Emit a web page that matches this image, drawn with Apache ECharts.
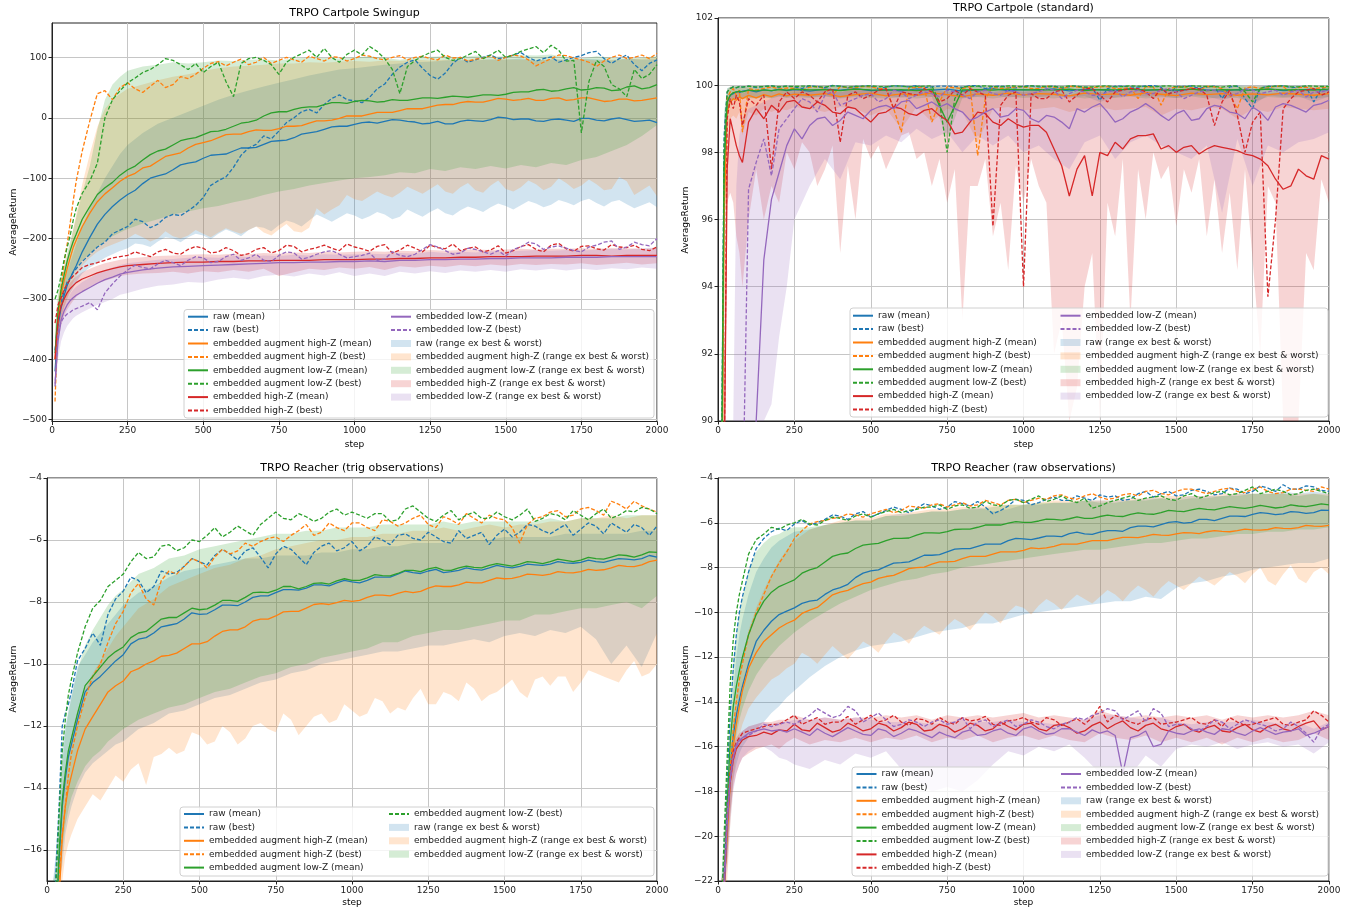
<!DOCTYPE html>
<html><head><meta charset="utf-8">
<script src="https://cdn.jsdelivr.net/npm/echarts@6/dist/echarts.min.js"></script>
<style>html,body{margin:0;padding:0;background:#fff}#c{width:1354px;height:909px}</style>
</head><body><div id="c"></div><script>
// ---------- x (training step) ----------
const X = [10,20,30,40,50,60,70,80,100,125,
 150,175,200,225,250,300,350,400,450,500,
 550,600,650,700,750,800,850,900,950,1000,
 1050,1100,1150,1200,1250,1300,1350,1400,1450,1500,
 1550,1600,1650,1700,1750,1800,1850,1900,1950,2000];
// extra in-between steps used by the noisier curves
const XM = [275,325,375,425,475,525,575,625,675,725,
 775,825,875,925,975,1025,1075,1125,1175,1225,
 1275,1325,1375,1425,1475,1525,1575,1625,1675,1725,
 1775,1825,1875,1925,1975];

// ---------- Panel 1: TRPO Cartpole Swingup ----------
const p1RawMean = [-420,-345,-315,-295,-278,-266,-255,-245,-222,-198,
 -176,-160,-147,-136,-127,-109,-96,-86,-75,-67,
 -61,-55,-50,-44,-38,-33,-25,-19,-14,-11,
 -7,-6,-4,-7,-9,-10,-6,-5,-3,0,
 -2,-5,-3,-4,-1,-4,-2,-3,-5,-8];
const p1RawMeanMid = [-120,-100,-93,-78,-73, -62,-60,-50,-49,-39, -37,-27,-23,-15,-14, -8,-9,-3,-6,-10, -6,-10,-4,-6,1, -3,-2,-6,-2,-6, -1,-5,0,-6,-4];
const p1RawBest = [-385,-335,-305,-288,-272,-265,-256,-250,-238,-226,
 -214,-206,-192,-186,-180,-172,-176,-160,-154,-132,
 -104,-82,-50,-30,-22,0,14,22,38,28,
 34,56,84,96,70,74,100,96,104,100,
 108,94,101,96,103,110,90,104,78,96];
const p1RawBestMid = [-168,-182,-165,-162,-145, -112,-98,-62,-44,-35, -8,10,8,32,30, 25,48,72,92,82, 64,90,92,100,98, 104,100,98,92,100, 108,98,98,88,90];
const p1HiMean = [-400,-330,-295,-270,-250,-232,-215,-203,-180,-158,
 -139,-126,-116,-105,-97,-83,-72,-61,-50,-41,
 -33,-27,-23,-21,-18,-14,-9,-5,-1,3,
 6,9,12,15,18,22,25,26,29,31,
 30,29,32,29,33,30,28,31,29,33];
const p1HiMeanMid = [-92,-80,-64,-58,-44, -38,-28,-27,-20,-21, -14,-13,-5,-4,3, 3,9,9,15,15, 21,22,27,26,32, 29,32,29,33,30, 33,27,31,28,31];
const p1HiBest = [-470,-330,-280,-240,-210,-175,-138,-105,-55,-5,
 40,45,30,50,58,42,62,55,65,82,
 93,92,88,100,95,96,102,94,100,98,
 102,96,103,100,98,104,100,97,103,100,
 102,86,98,103,96,85,100,98,104,107];
const p1HiBestMid = [48,52,50,68,72, 90,86,97,92,90, 100,92,98,101,94, 104,98,100,96,102, 96,99,94,99,95, 104,96,92,104,99, 92,94,104,100,98];
const p1LoMean = [-390,-320,-285,-260,-238,-220,-205,-193,-168,-147,
 -127,-116,-107,-95,-86,-70,-55,-45,-35,-28,
 -22,-14,-7,3,10,14,18,22,25,27,
 28,27,29,31,33,34,35,36,38,39,
 43,46,44,48,46,50,45,51,48,55];
const p1LoMeanMid = [-80,-61,-52,-38,-33, -23,-19,-9,-4,8, 10,17,18,25,24, 29,26,30,29,33, 32,36,34,38,37, 42,43,47,45,50, 47,49,46,53,50];
const p1LoBest = [-300,-285,-262,-235,-215,-195,-170,-150,-125,-105,
 -75,0,30,45,58,75,88,95,80,75,
 92,35,98,95,72,100,112,115,92,112,
 118,98,40,95,108,100,98,110,104,100,
 110,118,120,94,-25,95,55,35,65,88];
const p1LoBestMid = [66,80,98,88,90, 85,60,90,100,88, 92,106,100,100,105, 104,110,80,85,102, 112,95,104,98,112, 104,114,108,112,95, 60,85,48,80,72];
const p1EhMean = [-400,-335,-312,-300,-290,-283,-278,-273,-267,-262,
 -257,-253,-250,-247,-245,-243,-241,-240,-239,-239,
 -238,-238,-237,-237,-236,-236,-236,-235,-235,-235,
 -234,-234,-233,-233,-232,-232,-231,-231,-230,-230,
 -230,-229,-229,-229,-228,-228,-229,-228,-228,-228];
const p1EhBest = [-340,-310,-298,-285,-275,-268,-262,-258,-248,-243,
 -240,-236,-232,-230,-228,-226,-222,-224,-218,-216,
 -222,-220,-225,-215,-220,-213,-218,-211,-220,-214,
 -221,-210,-219,-216,-211,-217,-220,-214,-219,-224,
 -213,-218,-211,-217,-213,-217,-210,-215,-218,-214];
const p1EhBestMid = [-222,-230,-218,-226,-213, -224,-215,-228,-218,-224, -211,-222,-215,-216,-209, -217,-213,-224,-211,-222, -215,-209,-216,-222,-212, -220,-210,-222,-208,-221, -212,-219,-214,-211,-220];
const p1ElMean = [-440,-370,-335,-320,-310,-303,-298,-294,-288,-281,
 -274,-268,-264,-259,-256,-252,-249,-247,-246,-245,
 -244,-243,-242,-241,-240,-240,-239,-239,-238,-238,
 -237,-238,-236,-236,-235,-235,-234,-234,-233,-233,
 -232,-232,-232,-231,-231,-231,-230,-230,-230,-230];
const p1ElBest = [-445,-355,-338,-330,-325,-322,-318,-316,-312,-306,
 -318,-290,-275,-262,-252,-248,-242,-240,-236,-232,
 -238,-226,-232,-236,-228,-224,-231,-222,-226,-230,
 -224,-234,-228,-226,-210,-220,-224,-218,-226,-229,
 -214,-209,-214,-216,-222,-211,-204,-214,-210,-200];
const p1ElBestMid = [-244,-250,-236,-245,-230, -240,-230,-236,-226,-238, -222,-234,-226,-220,-232, -228,-236,-222,-230,-218, -214,-226,-216,-222,-220, -218,-206,-218,-212,-220, -214,-206,-218,-206,-212];
const p1RawLo = [-430,-360,-330,-312,-300,-290,-282,-272,-258,-248,
 -240,-232,-226,-220,-216,-210,-205,-200,-198,-195,
 -192,-190,-186,-182,-178,-174,-170,-166,-165,-162,
 -163,-160,-164,-158,-156,-158,-153,-151,-148,-146,
 -145,-142,-144,-140,-138,-141,-139,-143,-145,-148];
const p1RawLoMid = [-208,-214,-198,-206,-192, -201,-185,-196,-180,-188, -170,-180,-160,-172,-158, -168,-156,-168,-152,-164, -150,-162,-147,-156,-142, -152,-138,-148,-136,-145, -134,-147,-136,-150,-140];
const p1RawHi = [-380,-320,-290,-270,-255,-240,-225,-210,-180,-150,
 -125,-100,-80,-60,-45,-25,-10,0,10,20,
 30,38,45,52,58,64,70,75,80,82,
 85,88,90,92,93,95,96,95,97,96,
 98,95,97,96,98,97,95,98,96,97];
const p1HiLo = [-440,-370,-335,-315,-300,-285,-272,-262,-245,-232,
 -222,-215,-210,-205,-200,-198,-200,-196,-195,-192,
 -190,-188,-186,-190,-185,-188,-182,-160,-145,-135,
 -130,-128,-124,-120,-118,-122,-115,-120,-112,-118,
 -115,-110,-114,-108,-112,-110,-118,-105,-120,-130];
const p1HiLoMid = [-192,-205,-188,-200,-186, -198,-183,-192,-180,-195, -176,-190,-150,-152,-128, -138,-122,-132,-114,-126, -110,-126,-108,-124,-104, -122,-104,-120,-100,-118, -102,-120,-98,-128,-112];
const p1HiHi = [-360,-300,-270,-250,-230,-210,-185,-160,-110,-60,
 -15,15,30,40,48,55,62,68,72,78,
 82,85,86,88,90,90,92,91,93,94,
 93,95,94,96,95,96,95,97,96,97,
 96,95,97,96,97,95,96,97,98,100];
const p1LoLo = [-420,-350,-315,-295,-280,-268,-258,-250,-236,-225,
 -214,-205,-196,-190,-184,-175,-168,-160,-155,-150,
 -146,-140,-135,-128,-122,-118,-112,-108,-104,-100,
 -98,-95,-90,-92,-85,-88,-82,-85,-80,-84,
 -78,-82,-75,-78,-70,-65,-55,-45,-30,-12];
const p1LoHi = [-350,-290,-265,-245,-225,-205,-185,-165,-125,-80,
 -20,30,55,68,78,85,88,92,90,92,
 95,94,96,97,95,98,100,99,98,100,
 102,99,96,100,101,102,100,103,101,102,
 104,103,105,100,98,102,100,98,100,102];
const p1EhLo = [-430,-370,-345,-328,-318,-310,-303,-297,-288,-280,
 -274,-270,-266,-262,-260,-258,-257,-255,-258,-254,
 -256,-252,-255,-250,-262,-256,-250,-252,-248,-250,
 -247,-252,-246,-248,-245,-247,-244,-246,-243,-245,
 -242,-244,-242,-243,-241,-244,-242,-240,-243,-241];
const p1EhHi = [-370,-320,-300,-288,-280,-273,-268,-263,-256,-250,
 -245,-241,-238,-235,-233,-231,-229,-228,-227,-226,
 -227,-225,-226,-224,-225,-223,-224,-222,-223,-222,
 -221,-222,-220,-221,-219,-220,-219,-218,-219,-218,
 -217,-218,-217,-217,-216,-217,-216,-216,-217,-216];
const p1ElLo = [-460,-400,-370,-355,-345,-338,-332,-328,-322,-316,
 -310,-305,-300,-293,-290,-283,-278,-276,-272,-273,
 -268,-265,-268,-262,-260,-263,-258,-261,-256,-262,
 -258,-262,-255,-258,-254,-257,-253,-255,-252,-255,
 -251,-253,-250,-253,-250,-252,-249,-251,-248,-250];
const p1ElHi = [-410,-350,-325,-310,-300,-292,-285,-280,-272,-265,
 -258,-252,-248,-244,-241,-238,-235,-234,-232,-231,
 -232,-229,-231,-228,-229,-227,-228,-226,-227,-226,
 -225,-226,-224,-225,-222,-224,-222,-223,-221,-222,
 -220,-219,-220,-219,-220,-218,-217,-218,-216,-215];

// ---------- Panel 2: TRPO Cartpole (standard) ----------
const p2RawMean = [85,97.6,99.5,99.7,99.75,99.8,99.78,99.82,99.85,99.8,
 99.86,99.83,99.88,99.84,99.87,99.82,99.88,99.85,99.9,99.84,
 99.87,99.83,99.89,99.85,99.88,99.82,99.86,99.9,99.84,99.87,
 99.85,99.89,99.83,99.88,99.86,99.84,99.9,99.85,99.87,99.83,
 99.88,99.86,99.82,99.87,99.85,99.89,99.84,99.86,99.88,99.85];
const p2RawBest = [86,98.5,99.8,99.9,99.95,99.92,99.96,99.94,99.97,99.93,
 99.96,99.98,99.94,99.97,99.95,99.98,99.93,99.97,99.96,99.98,
 99.94,99.97,99.99,99.95,99.97,99.93,99.98,99.96,99.94,99.97,
 99.95,99.98,99.96,99.94,99.55,99.97,99.95,99.98,99.94,99.96,
 99.98,99.95,99.6,99.97,99.3,99.96,99.98,99.94,99.5,99.96];
const p2RawBestMid = [99.9,99.96,99.99,99.92,99.97, 99.9,99.98,99.95,99.93,99.97, 99.96,99.99,99.9,99.97,99.92, 99.98,99.95,99.9,99.97,99.92, 99.9,99.97,99.94,99.99,99.7, 99.96,99.9,99.97,99.95,99.6, 99.92,99.97,99.93,99.96,99.9];
const p2HiMean = [84,96,99.2,99.5,99.6,99.55,99.65,99.6,99.7,99.62,
 99.72,99.66,99.74,99.68,99.73,99.7,99.75,99.66,99.72,99.76,
 99.68,99.74,99.7,99.77,99.72,99.66,99.74,99.7,99.76,99.71,
 99.75,99.73,99.68,99.76,99.72,99.74,99.7,99.77,99.73,99.69,
 99.76,99.72,99.75,99.7,99.74,99.71,99.76,99.73,99.7,99.75];
const p2HiBest = [84,97,99.6,99.8,99.9,99.7,99.85,98.6,99.9,99.85,
 99.9,99.95,99.88,99.92,99.9,99.94,99.9,99.96,99.92,99.95,
 99.9,98.6,99.93,98.9,99.95,99.9,97.9,99.94,99.92,99.96,
 99.9,99.94,99.97,99.92,99.95,99.9,99.93,99.96,99.4,99.94,
 99.92,99.96,99.9,99.3,99.95,99.92,99.96,99.93,99.9,99.95];
const p2HiBestMid = [99.85,99.96,99.7,99.92,99.96, 99.9,99.3,99.92,99.95,99.5, 99.92,99.96,99.6,99.9,99.95, 99.9,99.97,99.88,99.95,99.93, 99.96,99.9,99.6,99.95,99.9, 99.96,99.85,99.95,99.7,99.92, 99.9,99.97,99.8,99.94,99.92];
const p2LoMean = [86,97.5,99.5,99.7,99.78,99.8,99.82,99.8,99.85,99.83,
 99.86,99.84,99.87,99.85,99.88,99.86,99.87,99.84,99.88,99.86,
 99.85,99.87,99.84,99.88,98.9,99.86,99.87,99.85,99.88,99.86,
 99.87,99.85,99.88,99.84,99.87,99.86,99.88,99.85,99.87,99.86,
 99.88,99.84,99.87,99.86,99.85,99.88,99.86,99.87,99.85,99.88];
const p2LoBest = [86,98.2,99.8,99.9,99.95,99.93,99.96,99.94,99.97,99.95,
 99.96,99.98,99.95,99.97,99.96,99.98,99.94,99.97,99.96,99.98,
 99.95,99.97,99.96,99.98,98.0,99.95,99.97,99.96,99.98,99.95,
 99.97,99.96,99.98,99.94,99.97,99.95,99.98,99.96,99.97,99.95,
 99.98,99.96,99.94,99.97,99.5,99.96,99.98,99.95,99.97,99.96];
const p2LoBestMid = [99.97,99.95,99.98,99.94,99.97, 99.96,99.98,99.95,99.97,99.5, 99.6,99.96,99.98,99.95,99.97, 99.98,99.96,99.94,99.97,99.95, 99.98,99.96,99.97,99.95,99.98, 99.94,99.97,99.96,99.98,99.8, 99.9,99.97,99.95,99.98,99.96];
const p2EhMean = [82,88,97.5,99.0,98.6,98.2,97.9,97.7,98.9,99.3,
 99.0,99.4,99.2,99.5,99.55,99.3,99.4,99.15,99.3,98.9,
 99.2,99.3,99.1,99.3,98.95,98.6,99.2,98.9,99.0,98.75,
 98.8,98.1,96.7,97.9,98.0,98.3,98.4,98.5,98.1,98.0,
 98.2,98.1,98.15,98.05,97.9,97.6,96.9,97.5,97.2,97.8];
const p2EhMeanMid = [99.35,99.5,99.2,99.35,99.1, 99.15,99.35,99.15,99.25,99.1, 98.55,98.9,99.15,98.8,98.85, 98.8,98.6,97.6,97.5,96.7, 97.9,98.1,98.5,98.55,98.2, 98.15,97.95,98.2,98.1,97.95, 97.8,97.2,97.0,97.3,97.9];
const p2EhBest = [82,88,99.0,99.6,99.3,99.7,99.5,98.8,99.6,99.4,
 99.7,97.5,99.5,99.8,99.6,99.7,99.8,98.3,99.8,99.7,
 99.9,99.8,99.7,99.8,99.6,99.7,99.8,95.8,99.7,94.0,
 99.6,99.8,99.5,99.9,99.7,99.8,99.9,99.8,99.9,99.8,
 99.9,99.7,99.5,99.1,98.9,93.7,99.3,99.8,99.9,99.8];
const p2EhBestMid = [99.8,99.5,99.9,99.7,99.6, 99.85,99.3,99.75,99.9,99.5, 99.85,99.9,99.7,99.4,99.8, 99.75,99.6,99.85,99.7,99.9, 99.5,99.85,99.9,99.6,99.75, 99.85,99.9,98.8,99.85,98.0, 99.2,96.0,99.6,99.85,99.7];
const p2ElMean = [80,80,80,80,80,80,82,84,87,90.0,
 94.8,96.6,97.4,98.2,98.7,98.8,99.05,98.95,99.1,99.25,
 99.4,99.5,99.3,99.5,99.45,99.2,99.05,99.3,99.1,99.25,
 98.9,99.05,98.7,99.2,99.45,98.9,99.2,99.45,99.1,99.15,
 98.95,99.3,99.35,99.15,99.35,98.95,99.45,99.3,99.4,99.55];
const p2ElMeanMid = [98.4,99.0,98.8,99.2,99.0, 99.35,99.3,99.55,99.4,99.35, 99.3,98.95,99.2,99.05,99.3, 99.0,99.1,98.9,99.3,99.35, 99.2,99.0,99.3,99.3,98.95, 99.25,99.0,99.4,99.2,99.0, 99.2,99.35,99.4,99.2,99.45];
const p2ElBest = [80,80,80,80,80,82,84,87,96.9,97.7,
 98.4,97.3,98.7,99.0,99.3,99.5,99.7,99.4,99.6,99.75,
 99.6,99.8,99.7,99.75,99.85,99.7,99.8,99.75,99.85,99.7,
 99.8,99.85,99.75,99.8,99.7,99.85,99.8,99.75,99.85,99.8,
 99.7,99.85,99.8,99.75,99.85,99.8,99.7,99.85,99.8,99.85];
const p2ElBestMid = [99.6,99.2,99.8,99.5,99.7, 99.5,99.85,99.6,99.8,99.65, 99.8,99.6,99.85,99.7,99.8, 99.75,99.9,99.6,99.85,99.7, 99.8,99.65,99.85,99.75,99.9, 99.6,99.8,99.85,99.7,99.9, 99.75,99.85,99.8,99.65,99.8];
const p2RawLo = [80,95.5,99.2,99.5,99.55,99.6,99.58,99.62,99.65,99.6,
 99.66,99.62,99.68,99.64,99.7,99.65,99.68,99.62,99.7,99.66,
 99.68,99.63,99.7,99.65,99.68,99.6,99.66,99.7,99.63,99.68,
 99.65,99.7,99.62,99.68,99.5,99.64,99.7,99.66,99.68,99.62,
 99.7,99.66,99.55,99.68,99.4,99.7,99.65,99.67,99.5,99.66];
const p2RawHi = [88,99.0,99.9,99.95,99.97,99.97,99.98,99.97,99.98,99.98,
 99.98,99.99,99.98,99.99,99.98,99.99,99.98,99.99,99.98,99.99,
 99.98,99.99,99.98,99.99,99.98,99.99,99.98,99.99,99.98,99.99,
 99.98,99.99,99.98,99.99,99.98,99.99,99.98,99.99,99.98,99.99,
 99.98,99.99,99.98,99.99,99.98,99.99,99.98,99.99,99.98,99.99];
const p2HiLo = [80,93,98.6,99.0,99.1,99.0,99.2,98.5,99.2,99.1,
 99.3,99.2,99.3,99.25,99.35,99.3,99.2,99.35,99.3,99.1,
 99.3,98.7,99.35,98.9,99.3,99.2,98.3,99.3,99.35,99.25,
 99.3,99.35,99.2,99.3,99.35,99.25,99.3,99.35,99.1,99.3,
 99.25,99.35,99.3,99.0,99.3,99.2,99.35,99.3,99.25,99.3];
const p2HiHi = [87,98.5,99.85,99.95,99.97,99.96,99.97,99.95,99.98,99.97,
 99.98,99.97,99.98,99.97,99.98,99.97,99.98,99.97,99.98,99.97,
 99.98,99.96,99.98,99.97,99.98,99.97,99.95,99.98,99.97,99.98,
 99.97,99.98,99.97,99.98,99.97,99.98,99.97,99.98,99.96,99.98,
 99.97,99.98,99.97,99.96,99.98,99.97,99.98,99.97,99.98,99.97];
const p2LoLo = [80,95.5,99.2,99.45,99.55,99.58,99.6,99.58,99.62,99.6,
 99.64,99.6,99.66,99.62,99.65,99.62,99.66,99.6,99.65,99.62,
 99.6,99.64,99.6,99.65,98.4,99.62,99.65,99.6,99.66,99.62,
 99.64,99.6,99.66,99.6,99.64,99.62,99.66,99.6,99.64,99.62,
 99.66,99.6,99.63,99.62,99.5,99.65,99.62,99.64,99.6,99.65];
const p2LoHi = [88,99.2,99.9,99.95,99.97,99.97,99.98,99.97,99.98,99.98,
 99.99,99.98,99.99,99.98,99.99,99.98,99.99,99.98,99.99,99.98,
 99.99,99.98,99.99,99.98,99.9,99.98,99.99,99.98,99.99,99.98,
 99.99,99.98,99.99,99.98,99.99,99.98,99.99,99.98,99.99,99.98,
 99.99,99.98,99.99,99.98,99.95,99.98,99.99,99.98,99.99,99.98];
const p2EhLo = [80,85,96.5,96.8,96.5,95.5,95.0,94.0,96.0,97.5,
 96.0,97.0,96.5,98.0,97.5,98.0,97.5,95.0,96.0,97.8,
 97.5,98.5,97.8,97.0,96.5,93.0,97.0,95.5,94.5,96.5,
 97.0,92.0,88.0,94.0,88.0,95.5,93.0,96.0,97.2,95.8,
 96.8,95.5,95.0,94.5,94.8,97.0,88.0,88.0,94.5,96.5];
const p2EhLoMid = [98.3,97.0,98.2,97.6,98.4, 98.2,98.0,98.6,98.0,97.8, 97.5,97.0,97.8,96.5,97.6, 97.8,96.5,93.0,91.0,95.0, 96.5,97.8,97.5,98.0,97.6, 97.5,97.8,97.2,96.8,97.5, 92.0,96.5,88.0,95.0,97.2];
const p2EhHi = [84,92,99.5,99.7,99.75,99.8,99.8,99.75,99.85,99.8,
 99.85,99.8,99.85,99.88,99.85,99.88,99.85,99.8,99.88,99.85,
 99.88,99.85,99.88,99.85,99.8,99.85,99.88,99.8,99.85,99.8,
 99.85,99.8,99.7,99.85,99.8,99.85,99.88,99.85,99.88,99.85,
 99.88,99.85,99.8,99.85,99.8,99.75,99.8,99.85,99.88,99.85];
const p2ElLo = [80,80,80,80,80,80,80,80,80,80,
 80,90.5,92.5,94.0,96.0,97.0,97.8,97.2,98.3,98.2,
 98.5,98.3,98.7,98.4,98.6,98.0,98.5,98.2,98.5,98.0,
 98.2,97.8,97.5,98.3,98.5,97.8,98.3,98.5,98.2,98.0,
 97.8,98.2,96.2,98.4,97.0,98.2,98.0,98.3,98.4,98.6];
const p2ElHi = [80,80,82,84,88,97,98.5,99.0,99.3,99.4,
 99.5,99.6,99.7,99.75,99.8,99.8,99.85,99.8,99.85,99.85,
 99.88,99.85,99.88,99.85,99.88,99.85,99.85,99.88,99.85,99.88,
 99.85,99.88,99.8,99.85,99.88,99.85,99.88,99.85,99.88,99.85,
 99.88,99.85,99.8,99.88,99.85,99.88,99.85,99.88,99.85,99.88];

// ---------- Panel 3: TRPO Reacher (trig observations) ----------
const p3RawMean = [-19,-19,-18.5,-16.3,-14.6,-13.7,-13.0,-12.6,-11.8,-10.9,
 -10.6,-10.4,-10.15,-9.9,-9.7,-9.2,-9.0,-8.75,-8.55,-8.4,
 -8.25,-8.1,-8.0,-7.8,-7.7,-7.6,-7.55,-7.45,-7.38,-7.35,
 -7.3,-7.2,-7.1,-7.05,-7.0,-7.05,-6.98,-6.95,-6.9,-6.87,
 -6.85,-6.8,-6.78,-6.74,-6.72,-6.7,-6.66,-6.62,-6.6,-6.55];
const p3RawMeanMid = [-9.35,-9.15,-8.8,-8.7,-8.35, -8.38,-8.1,-8.12,-7.85,-7.8, -7.6,-7.62,-7.45,-7.48,-7.3, -7.38,-7.2,-7.2,-7.0,-7.08, -6.95,-7.02,-6.9,-6.97,-6.82, -6.9,-6.78,-6.82,-6.7,-6.75, -6.65,-6.72,-6.6,-6.64,-6.5];
const p3RawBest = [-20,-19,-16.5,-14.5,-12.0,-11.6,-11.3,-10.9,-9.9,-9.5,
 -9.0,-9.4,-8.4,-7.9,-7.65,-7.3,-7.5,-7.1,-6.85,-6.7,
 -6.5,-6.45,-6.35,-6.55,-6.45,-6.3,-6.8,-6.2,-6.35,-6.05,
 -6.2,-6.0,-5.85,-5.95,-5.75,-6.05,-5.7,-5.85,-6.15,-5.65,
 -5.75,-5.55,-5.8,-5.5,-5.65,-5.55,-5.45,-5.75,-5.6,-5.55];
const p3RawBestMid = [-7.2,-7.7,-7.0,-7.05,-6.6, -6.8,-6.3,-6.65,-6.25,-6.9, -6.2,-6.55,-6.4,-6.1,-6.25, -6.35,-5.9,-6.15,-5.8,-6.0, -5.9,-6.1,-5.95,-5.75,-5.85, -5.9,-5.5,-5.7,-5.65,-5.85, -5.45,-5.8,-5.6,-5.5,-5.85];
const p3HiMean = [-19,-19,-19,-17.5,-15.6,-14.6,-14.0,-13.6,-12.8,-12.1,
 -11.7,-11.3,-10.9,-10.7,-10.55,-10.15,-9.9,-9.72,-9.5,-9.35,
 -9.1,-8.9,-8.8,-8.55,-8.45,-8.3,-8.2,-8.05,-8.02,-7.98,
 -7.85,-7.78,-7.72,-7.7,-7.55,-7.5,-7.45,-7.38,-7.3,-7.25,
 -7.18,-7.12,-7.1,-7.05,-7.02,-6.98,-6.9,-6.85,-6.8,-6.65];
const p3HiMeanMid = [-10.25,-10.0,-9.75,-9.65,-9.35, -9.28,-8.95,-8.9,-8.62,-8.55, -8.32,-8.3,-8.08,-8.08,-7.95, -7.95,-7.78,-7.8,-7.66,-7.66, -7.48,-7.5,-7.36,-7.38,-7.22, -7.24,-7.1,-7.14,-7.02,-7.06, -6.95,-6.96,-6.82,-6.86,-6.7];
const p3HiBest = [-21,-20,-18.5,-16.8,-15.5,-14.6,-13.6,-12.9,-12.0,-11.1,
 -10.4,-10.0,-9.3,-8.7,-8.3,-7.4,-8.1,-7.0,-6.85,-6.7,
 -6.55,-6.45,-6.1,-6.05,-5.9,-5.85,-5.5,-5.75,-5.6,-5.45,
 -5.6,-5.35,-5.55,-5.3,-5.5,-5.25,-5.5,-5.3,-5.2,-5.35,
 -6.1,-5.3,-5.1,-5.25,-5.0,-5.05,-4.75,-5.0,-4.9,-5.1];
const p3HiBestMid = [-7.7,-7.9,-7.3,-7.1,-6.6, -6.9,-6.3,-6.35,-6.2,-5.95, -6.05,-5.7,-5.85,-5.45,-5.7, -5.45,-5.7,-5.4,-5.45,-5.2, -5.6,-5.35,-5.15,-5.45,-5.3, -5.6,-5.5,-5.25,-5.05,-5.2, -4.95,-5.2,-4.85,-4.75,-5.0];
const p3LoMean = [-19,-19,-18.3,-16.0,-14.4,-13.5,-12.8,-12.4,-11.6,-10.7,
 -10.4,-10.1,-9.8,-9.6,-9.45,-9.0,-8.75,-8.5,-8.35,-8.25,
 -8.1,-7.95,-7.85,-7.68,-7.62,-7.5,-7.5,-7.38,-7.32,-7.3,
 -7.22,-7.15,-7.08,-6.98,-6.93,-6.97,-6.9,-6.88,-6.82,-6.8,
 -6.78,-6.72,-6.7,-6.66,-6.65,-6.6,-6.55,-6.5,-6.48,-6.4];
const p3LoMeanMid = [-9.15,-8.95,-8.55,-8.5,-8.2, -8.22,-7.95,-7.98,-7.7,-7.7, -7.5,-7.58,-7.4,-7.42,-7.25, -7.3,-7.12,-7.16,-6.98,-7.02, -6.88,-6.98,-6.84,-6.9,-6.76, -6.84,-6.7,-6.76,-6.62,-6.7, -6.56,-6.62,-6.48,-6.55,-6.38];
const p3LoBest = [-20,-19,-17,-14.8,-12.8,-11.8,-11.0,-10.5,-9.65,-8.8,
 -8.2,-7.95,-7.5,-7.3,-7.1,-6.4,-6.55,-6.15,-6.25,-6.05,
 -5.6,-5.75,-5.7,-5.5,-5.1,-5.35,-5.25,-5.3,-5.0,-5.1,
 -5.3,-5.15,-5.35,-4.9,-5.3,-5.2,-5.35,-5.1,-5.3,-5.25,
 -5.2,-5.4,-5.15,-5.35,-5.2,-5.15,-5.3,-5.05,-4.95,-5.15];
const p3LoBestMid = [-6.7,-6.6,-6.2,-6.35,-6.0, -5.85,-5.9,-5.55,-5.85,-5.3, -5.3,-5.15,-5.4,-5.1,-5.2, -5.2,-5.15,-5.4,-5.0,-5.1, -5.4,-5.05,-5.2,-5.3,-5.1, -5.35,-5.0,-5.3,-5.2,-5.05, -5.35,-5.0,-5.2,-5.1,-5.0];
const p3RawLo = [-21,-20,-19,-18,-16.5,-15.5,-15,-14.6,-14.0,-13.5,
 -13.2,-13.0,-12.8,-12.6,-12.5,-12.1,-11.9,-11.6,-11.5,-11.3,
 -11.1,-11.0,-10.8,-10.6,-10.5,-10.3,-10.2,-10.0,-9.9,-9.8,
 -9.7,-9.6,-9.6,-9.5,-9.4,-9.4,-9.3,-9.2,-9.3,-9.1,
 -9.0,-9.1,-8.9,-9.0,-8.8,-9.2,-10.0,-9.4,-10.1,-9.0];
const p3RawHi = [-19,-18,-16,-14.5,-12.8,-12.0,-11.5,-11.0,-10.1,-9.7,
 -9.3,-9.0,-8.7,-8.4,-8.1,-7.7,-7.5,-7.2,-7.0,-6.9,
 -6.8,-6.7,-6.6,-6.6,-6.5,-6.5,-6.5,-6.4,-6.4,-6.3,
 -6.3,-6.2,-6.2,-6.1,-6.1,-6.1,-6.0,-6.0,-6.0,-5.9,
 -5.9,-5.9,-5.9,-5.8,-5.8,-5.8,-5.8,-5.8,-5.7,-5.7];
const p3HiLo = [-22,-21,-20,-18.5,-17,-16.2,-15.8,-15.5,-15.0,-14.6,
 -14.2,-14.4,-14.0,-13.6,-13.8,-13.2,-13.0,-12.7,-12.8,-12.3,
 -12.5,-12.2,-12.4,-11.9,-12.2,-11.8,-12.0,-11.6,-11.8,-11.5,
 -11.6,-11.2,-11.4,-11.1,-11.3,-10.9,-11.2,-10.8,-11.0,-10.7,
 -10.9,-10.5,-10.7,-10.4,-10.6,-10.3,-10.5,-10.2,-10.4,-10.0];
const p3HiLoMid = [-13.4,-13.9,-12.9,-12.9,-12.2, -12.6,-12.0,-12.6,-12.0,-12.1, -11.6,-12.3,-11.7,-11.9,-11.3, -11.7,-11.1,-11.6,-11.5,-10.8, -11.3,-11.0,-10.6,-11.2,-10.9, -10.5,-11.1,-10.4,-10.4,-10.9, -10.2,-10.4,-10.6,-9.9,-10.3];
const p3HiHi = [-20,-19,-18,-16.5,-14.5,-13.5,-12.8,-12.3,-11.5,-10.8,
 -10.3,-9.9,-9.5,-9.1,-8.8,-8.2,-7.9,-7.5,-7.3,-7.1,
 -6.9,-6.8,-6.6,-6.5,-6.3,-6.2,-6.1,-6.0,-6.0,-5.9,
 -5.9,-5.8,-5.8,-5.7,-5.7,-5.6,-5.7,-5.6,-5.5,-5.6,
 -5.5,-5.5,-5.4,-5.4,-5.3,-5.3,-5.2,-5.3,-5.2,-5.2];
const p3LoLo = [-21,-20,-19,-17.5,-16,-15.2,-14.7,-14.3,-13.8,-13.3,
 -13.0,-12.8,-12.5,-12.3,-12.1,-11.8,-11.6,-11.4,-11.3,-11.1,
 -10.9,-10.8,-10.6,-10.4,-10.3,-10.1,-10.0,-9.8,-9.7,-9.6,
 -9.5,-9.3,-9.3,-9.1,-9.0,-8.9,-8.9,-8.8,-8.7,-8.6,
 -8.6,-8.4,-8.4,-8.3,-8.2,-8.2,-8.1,-8.0,-8.2,-7.8];
const p3LoHi = [-19,-18,-16.5,-14.8,-13.2,-12.2,-11.6,-11.1,-10.2,-9.4,
 -8.9,-8.5,-8.1,-7.8,-7.6,-7.1,-6.9,-6.6,-6.5,-6.3,
 -6.2,-6.1,-6.0,-5.9,-5.8,-5.8,-5.7,-5.7,-5.6,-5.6,
 -5.6,-5.5,-5.5,-5.5,-5.5,-5.4,-5.5,-5.4,-5.4,-5.4,
 -5.4,-5.4,-5.3,-5.4,-5.3,-5.3,-5.3,-5.2,-5.2,-5.2];

// ---------- Panel 4: TRPO Reacher (raw observations) ----------
const p4RawMean = [-24,-22.5,-19.5,-17.0,-15.5,-14.6,-13.9,-13.3,-12.3,-11.3,
 -10.8,-10.4,-10.1,-9.95,-9.8,-9.5,-9.2,-8.9,-8.45,-8.15,
 -7.95,-7.78,-7.6,-7.45,-7.3,-7.15,-7.05,-6.95,-6.8,-6.72,
 -6.68,-6.6,-6.48,-6.5,-6.42,-6.35,-6.22,-6.15,-6.08,-5.95,
 -5.98,-5.85,-5.8,-5.7,-5.62,-5.58,-5.6,-5.52,-5.55,-5.45];
const p4RawMeanMid = [-9.6,-9.45,-9.0,-8.75,-8.25, -8.1,-7.8,-7.75,-7.45,-7.42, -7.18,-7.15,-6.95,-6.95,-6.7, -6.75,-6.6,-6.62,-6.42,-6.52, -6.35,-6.38,-6.15,-6.18,-5.98, -6.02,-5.85,-5.9,-5.7,-5.72, -5.55,-5.64,-5.5,-5.58,-5.44];
const p4RawBest = [-24,-21,-17.5,-14.5,-12.5,-11.0,-10.0,-9.3,-8.2,-7.15,
 -6.7,-6.4,-6.25,-6.35,-6.05,-6.1,-5.85,-5.7,-5.6,-5.75,
 -5.45,-5.4,-5.35,-5.25,-5.3,-5.15,-5.05,-5.6,-5.25,-5.0,
 -5.1,-4.85,-5.0,-4.9,-4.75,-4.8,-4.95,-4.6,-4.7,-4.8,
 -4.55,-4.6,-4.7,-4.5,-4.6,-4.45,-4.3,-4.5,-4.4,-4.6];
const p4RawBestMid = [-5.9,-6.0,-5.65,-5.85,-5.5, -5.6,-5.3,-5.55,-5.15,-5.4, -5.05,-5.25,-5.3,-5.45,-4.95, -5.2,-4.95,-5.0,-4.8,-5.0, -4.85,-5.0,-4.7,-4.85,-4.6, -4.75,-4.5,-4.75,-4.45,-4.7, -4.35,-4.6,-4.5,-4.35,-4.55];
const p4HiMean = [-24,-22.5,-20,-17.6,-16.0,-15.0,-14.2,-13.5,-12.5,-11.8,
 -11.3,-11.0,-10.7,-10.5,-10.35,-9.9,-9.5,-9.1,-8.85,-8.65,
 -8.4,-8.2,-8.0,-7.85,-7.75,-7.6,-7.5,-7.4,-7.3,-7.23,
 -7.15,-7.05,-6.95,-6.88,-6.8,-6.72,-6.65,-6.6,-6.55,-6.5,
 -6.45,-6.4,-6.38,-6.35,-6.32,-6.3,-6.25,-6.22,-6.15,-6.12];
const p4HiMeanMid = [-10.05,-9.78,-9.22,-9.02,-8.72, -8.48,-8.35,-8.05,-7.98,-7.75, -7.72,-7.5,-7.5,-7.3,-7.3, -7.12,-7.12,-6.95,-6.95,-6.8, -6.8,-6.65,-6.66,-6.52,-6.56, -6.44,-6.48,-6.35,-6.4,-6.28, -6.33,-6.22,-6.26,-6.12,-6.16];
const p4HiBest = [-24,-22,-19.5,-17,-15.2,-14,-13,-12.3,-11.0,-10.0,
 -9.2,-8.4,-7.8,-7.3,-6.7,-6.05,-5.9,-5.75,-5.65,-5.6,
 -5.4,-5.45,-5.3,-5.2,-5.3,-5.1,-5.2,-5.1,-5.0,-5.1,
 -4.9,-4.8,-4.9,-4.8,-4.85,-4.9,-4.7,-4.6,-4.7,-4.6,
 -4.5,-4.7,-4.5,-4.6,-4.5,-4.6,-4.65,-4.5,-4.6,-4.5];
const p4HiBestMid = [-6.35,-5.95,-5.8,-5.6,-5.75, -5.5,-5.55,-5.25,-5.35,-5.15, -5.2,-5.25,-5.0,-5.2,-4.95, -5.0,-4.95,-4.75,-4.95,-4.7, -4.95,-4.75,-4.8,-4.55,-4.75, -4.5,-4.6,-4.6,-4.45,-4.65, -4.4,-4.7,-4.5,-4.55,-4.4];
const p4LoMean = [-24,-22,-18.5,-15.8,-14.2,-13.3,-12.6,-12.0,-11.0,-10.1,
 -9.5,-9.1,-8.85,-8.7,-8.55,-8.1,-7.75,-7.4,-7.15,-6.95,
 -6.8,-6.7,-6.55,-6.45,-6.4,-6.28,-6.2,-6.1,-6.02,-5.98,
 -5.92,-5.85,-5.82,-5.8,-5.72,-5.7,-5.62,-5.6,-5.55,-5.48,
 -5.42,-5.4,-5.35,-5.32,-5.3,-5.28,-5.3,-5.25,-5.22,-5.2];
const p4LoMeanMid = [-8.25,-8.0,-7.5,-7.35,-7.0, -6.92,-6.7,-6.68,-6.45,-6.46, -6.3,-6.28,-6.1,-6.1,-5.95, -5.98,-5.84,-5.88,-5.74,-5.8, -5.66,-5.72,-5.56,-5.62,-5.45, -5.5,-5.36,-5.42,-5.28,-5.36, -5.22,-5.34,-5.2,-5.28,-5.16];
const p4LoBest = [-24,-20,-16.5,-13.2,-11.2,-10.0,-9.2,-8.6,-7.4,-6.75,
 -6.5,-6.2,-6.3,-6.1,-6.0,-6.05,-5.9,-5.8,-5.7,-5.75,
 -5.5,-5.55,-5.4,-5.3,-5.4,-5.2,-5.3,-5.2,-5.0,-5.1,
 -4.8,-4.95,-5.0,-4.9,-5.25,-5.0,-4.8,-4.9,-4.8,-5.0,
 -4.7,-4.8,-4.6,-4.7,-4.4,-4.6,-4.6,-4.7,-4.5,-4.7];
const p4LoBestMid = [-5.85,-6.1,-5.75,-5.9,-5.6, -5.6,-5.4,-5.45,-5.3,-5.2, -5.25,-5.35,-5.05,-5.25,-4.95, -4.95,-5.05,-4.8,-5.1,-5.35, -5.1,-4.9,-5.0,-4.85,-4.95, -4.8,-4.9,-4.65,-4.75,-4.55, -4.7,-4.5,-4.75,-4.55,-4.6];
const p4EhMean = [-24,-22.5,-19.5,-17.6,-16.6,-16.1,-15.9,-15.7,-15.55,-15.5,
 -15.35,-15.45,-15.25,-15.3,-15.0,-15.3,-15.15,-15.25,-15.1,-15.2,
 -15.05,-15.15,-15.0,-15.25,-15.1,-15.2,-15.05,-15.2,-15.1,-15.0,
 -15.2,-15.05,-15.15,-15.3,-14.9,-15.0,-15.15,-15.05,-15.2,-15.1,
 -15.25,-15.15,-15.3,-15.15,-15.25,-15.1,-15.2,-15.1,-14.85,-15.1];
const p4EhMeanMid = [-15.25,-14.95,-15.35,-14.95,-15.3, -14.95,-15.3,-14.9,-15.3,-15.0, -15.35,-14.95,-15.3,-14.9,-15.25, -14.95,-15.3,-15.0,-15.4,-15.05, -15.2,-14.85,-15.3,-14.95,-15.3, -15.0,-15.35,-15.05,-15.35,-15.0, -15.35,-15.0,-15.3,-14.95,-15.25];
const p4EhBest = [-24,-22,-19,-17.2,-16.2,-15.8,-15.6,-15.4,-15.3,-15.2,
 -15.1,-15.0,-15.0,-14.8,-14.6,-14.85,-15.0,-14.9,-15.0,-14.6,
 -14.8,-14.9,-14.75,-15.0,-14.9,-14.7,-14.8,-15.0,-14.85,-14.7,
 -15.0,-14.8,-14.9,-15.0,-14.2,-14.6,-14.9,-14.8,-15.0,-14.9,
 -14.7,-15.0,-15.1,-14.9,-15.0,-14.8,-15.0,-14.9,-14.4,-14.9];
const p4EhBestMid = [-15.0,-14.7,-14.9,-14.65,-14.8, -14.9,-14.6,-15.05,-14.8,-14.7, -15.0,-14.85,-14.65,-15.05,-14.8, -14.9,-14.7,-15.05,-14.75,-14.7, -14.9,-14.75,-15.0,-14.7,-14.95, -14.8,-14.95,-14.8,-14.7,-15.05, -14.9,-14.7,-15.05,-14.8,-14.6];
const p4ElMean = [-24,-22.5,-19.5,-17.4,-16.4,-15.9,-15.7,-15.6,-15.4,-15.3,
 -15.2,-15.3,-15.25,-15.35,-15.2,-15.5,-15.4,-15.35,-15.3,-15.5,
 -15.3,-15.4,-15.3,-15.6,-15.5,-15.35,-15.5,-15.3,-15.4,-15.2,
 -15.3,-15.4,-15.2,-15.5,-15.4,-15.5,-15.6,-15.3,-15.9,-15.4,
 -15.3,-15.35,-15.2,-15.4,-15.3,-15.3,-15.35,-15.2,-15.4,-15.1];
const p4ElMeanMid = [-15.35,-15.2,-15.55,-15.15,-15.45, -15.2,-15.55,-15.2,-15.45,-15.35, -15.6,-15.25,-15.45,-15.2,-15.5, -15.1,-15.45,-15.2,-15.35,-15.25, -15.3,-17.2,-15.5,-16.0,-15.3, -15.45,-15.2,-15.45,-15.25,-15.5, -15.15,-15.45,-15.3,-15.5,-15.25];
const p4ElBest = [-24,-22,-19,-17.5,-16.5,-16.0,-15.8,-15.6,-15.5,-15.3,
 -15.0,-15.1,-15.0,-14.9,-15.0,-14.6,-14.5,-14.6,-14.4,-14.7,
 -14.8,-15.0,-14.9,-14.9,-15.0,-14.7,-14.9,-15.1,-14.8,-15.0,
 -14.9,-15.2,-14.9,-14.8,-14.5,-14.4,-14.6,-14.9,-14.5,-15.0,
 -15.2,-15.1,-14.9,-15.0,-14.9,-15.1,-15.2,-15.1,-15.8,-15.0];
const p4ElBestMid = [-14.8,-14.3,-14.7,-14.2,-14.9, -14.5,-15.1,-14.8,-15.1,-14.8, -14.9,-15.2,-14.8,-14.95,-15.1, -14.8,-15.1,-15.0,-14.7,-14.6, -14.3,-14.8,-14.4,-14.3,-15.1, -15.0,-15.3,-14.8,-15.2,-14.8, -15.0,-15.3,-14.9,-15.4,-15.2];
const p4RawLo = [-25,-24,-21,-19,-17.5,-16.8,-16.3,-16.0,-15.6,-15.2,
 -14.9,-14.5,-14.2,-13.8,-13.5,-12.9,-12.4,-12.0,-11.7,-11.5,
 -11.4,-11.3,-11.1,-10.9,-10.8,-10.7,-10.5,-10.5,-10.3,-10.1,
 -10.0,-9.9,-9.8,-9.7,-9.6,-9.5,-9.5,-9.3,-9.4,-8.9,
 -8.7,-8.6,-8.4,-8.3,-8.1,-8.0,-7.9,-7.8,-7.8,-7.6];
const p4RawHi = [-23,-21,-18,-15.5,-13.5,-12.0,-11.0,-10.3,-9.2,-8.2,
 -7.6,-7.1,-6.8,-6.6,-6.4,-6.3,-6.1,-6.0,-5.9,-5.9,
 -5.7,-5.6,-5.6,-5.5,-5.5,-5.4,-5.3,-5.5,-5.4,-5.2,
 -5.2,-5.1,-5.1,-5.0,-5.0,-5.0,-5.0,-4.9,-4.9,-4.9,
 -4.8,-4.8,-4.8,-4.7,-4.7,-4.7,-4.6,-4.7,-4.6,-4.7];
const p4HiLo = [-25,-24,-22,-19.5,-17.5,-16.3,-15.5,-15.0,-14.3,-13.8,
 -13.4,-13.0,-12.8,-12.5,-12.3,-12.0,-11.9,-11.8,-11.7,-11.5,
 -11.3,-11.1,-10.9,-10.8,-10.6,-10.5,-10.4,-10.2,-10.0,-9.8,
 -9.7,-9.6,-9.5,-9.4,-9.3,-9.2,-9.1,-9.0,-8.9,-8.8,
 -8.7,-8.6,-8.5,-8.4,-8.3,-8.6,-8.3,-8.5,-8.2,-8.3];
const p4HiLoMid = [-11.8,-12.3,-11.5,-12.1,-11.3, -11.8,-10.9,-11.4,-10.6,-11.0, -10.3,-10.8,-10.0,-10.5,-9.7, -10.1,-9.4,-9.9,-9.2,-9.6, -9.0,-9.5,-8.8,-9.3,-8.6, -9.0,-8.4,-8.8,-8.2,-8.7, -8.0,-8.8,-7.9,-8.7,-8.0];
const p4HiHi = [-23,-21.5,-19,-16.5,-14.8,-13.6,-12.8,-12.0,-10.8,-9.8,
 -9.0,-8.3,-7.7,-7.2,-6.8,-6.3,-6.1,-5.9,-5.8,-5.8,
 -5.6,-5.6,-5.5,-5.4,-5.4,-5.3,-5.3,-5.2,-5.2,-5.2,
 -5.1,-5.0,-5.0,-5.0,-5.0,-5.0,-4.9,-4.9,-4.8,-4.8,
 -4.8,-4.8,-4.7,-4.7,-4.7,-4.7,-4.7,-4.7,-4.7,-4.7];
const p4LoLo = [-25,-23.5,-20.5,-18,-16.5,-15.5,-14.8,-14.3,-13.5,-12.8,
 -12.3,-11.9,-11.5,-11.2,-10.9,-10.4,-10.0,-9.6,-9.3,-9.0,
 -8.8,-8.6,-8.5,-8.3,-8.2,-8.0,-7.9,-7.8,-7.7,-7.6,
 -7.5,-7.4,-7.3,-7.2,-7.2,-7.1,-7.0,-6.9,-6.9,-6.8,
 -6.7,-6.7,-6.6,-6.5,-6.5,-6.4,-6.4,-6.3,-6.3,-6.2];
const p4LoHi = [-22.5,-20,-17,-14.2,-12.3,-11,-10,-9.3,-8.1,-7.3,
 -6.9,-6.6,-6.5,-6.3,-6.2,-6.2,-6.1,-6.0,-5.9,-5.9,
 -5.7,-5.7,-5.6,-5.5,-5.5,-5.4,-5.4,-5.3,-5.2,-5.2,
 -5.1,-5.1,-5.1,-5.0,-5.1,-5.1,-5.0,-5.0,-4.9,-5.0,
 -4.9,-4.9,-4.8,-4.8,-4.7,-4.7,-4.7,-4.8,-4.7,-4.8];
const p4EhLo = [-25,-23.5,-21,-19,-17.8,-17.2,-16.8,-16.5,-16.3,-16.1,
 -16.0,-15.9,-16.1,-15.8,-15.6,-15.9,-15.7,-15.8,-15.6,-15.8,
 -15.6,-15.7,-15.5,-15.8,-15.6,-15.7,-15.5,-15.8,-15.6,-15.5,
 -15.7,-15.5,-15.7,-15.8,-15.4,-15.6,-15.7,-15.5,-15.8,-15.6,
 -15.8,-15.6,-15.9,-15.6,-15.8,-15.6,-15.8,-15.7,-15.4,-15.7];
const p4EhHi = [-23,-21.5,-19,-17,-16,-15.6,-15.4,-15.3,-15.1,-15.0,
 -14.9,-14.9,-14.8,-14.8,-14.6,-14.8,-14.7,-14.8,-14.7,-14.7,
 -14.6,-14.7,-14.6,-14.8,-14.6,-14.7,-14.6,-14.7,-14.6,-14.5,
 -14.7,-14.6,-14.7,-14.8,-14.4,-14.6,-14.7,-14.6,-14.7,-14.6,
 -14.7,-14.6,-14.8,-14.6,-14.7,-14.6,-14.7,-14.6,-14.4,-14.6];
const p4ElLo = [-25,-24,-21.5,-19.5,-18,-17.2,-16.8,-16.5,-16.2,-16.0,
 -16.0,-16.2,-16.5,-16.6,-16.8,-17.0,-16.6,-16.8,-16.3,-16.5,
 -16.2,-17.0,-17.5,-18.0,-17.8,-18.0,-17.5,-16.8,-16.2,-16.4,
 -16.0,-16.2,-15.9,-16.5,-17.2,-17.0,-17.3,-16.4,-16.9,-16.1,
 -15.9,-16.0,-15.8,-16.1,-15.9,-15.8,-16.0,-15.9,-16.3,-15.8];
const p4ElHi = [-23.5,-22,-19.5,-17.5,-16.3,-15.8,-15.5,-15.3,-15.1,-15.0,
 -14.9,-15.0,-14.9,-14.9,-14.8,-14.8,-14.7,-14.8,-14.7,-14.8,
 -14.9,-14.9,-14.9,-15.0,-14.9,-14.8,-14.9,-14.9,-14.8,-14.9,
 -14.9,-15.0,-14.9,-14.8,-14.6,-14.6,-14.7,-14.8,-14.7,-14.9,
 -15.0,-14.9,-14.9,-14.9,-14.8,-14.9,-15.0,-14.9,-15.2,-14.9];

// ---------- axis ticks ----------
const y1Ticks = [-500,-400,-300,-200,-100,0,100];
const y2Ticks = [90,92,94,96,98,100,102];
const y3Ticks = [-16,-14,-12,-10,-8,-6,-4];
const y4Ticks = [-22,-20,-18,-16,-14,-12,-10,-8,-6,-4];

const titles = ['TRPO Cartpole Swingup','TRPO Cartpole (standard)','TRPO Reacher (trig observations)','TRPO Reacher (raw observations)'];

// ---------- styling ----------
const FONT = '"DejaVu Sans", sans-serif';
const COL = {raw:'#1f77b4', hi:'#ff7f0e', lo:'#2ca02c', eh:'#d62728', el:'#9467bd'};
const BAND = {raw:'rgba(31,119,180,0.2)', hi:'rgba(255,127,14,0.2)', lo:'rgba(44,160,44,0.2)', eh:'rgba(214,39,40,0.2)', el:'rgba(148,103,189,0.2)'};
const LBL = {raw:'raw', hi:'embedded augment high-Z', lo:'embedded augment low-Z', eh:'embedded high-Z', el:'embedded low-Z'};
const nm = (k, t) => LBL[k] + (t==='m' ? ' (mean)' : t==='b' ? ' (best)' : ' (range ex best & worst)');

// lines: [key, mean, best, meanMid, bestMid]; bands: [key, lo, hi, loMid]
const panels = [
 {grid:{left:52, right:697, top:23, bottom:487.5}, ymin:-503, ymax:157, ticks:y1Ticks,
  bands:[['raw',p1RawLo,p1RawHi,p1RawLoMid],['hi',p1HiLo,p1HiHi,p1HiLoMid],['lo',p1LoLo,p1LoHi],['eh',p1EhLo,p1EhHi],['el',p1ElLo,p1ElHi]],
  lines:[['raw',p1RawMean,p1RawBest,p1RawMeanMid,p1RawBestMid],['hi',p1HiMean,p1HiBest,p1HiMeanMid,p1HiBestMid],['lo',p1LoMean,p1LoBest,p1LoMeanMid,p1LoBestMid],['eh',p1EhMean,p1EhBest,null,p1EhBestMid],['el',p1ElMean,p1ElBest,null,p1ElBestMid]],
  title:[354.5,13], xname:[354.5,445], yname:[14,222],
  box:[184,309.5,470,108.5], legA:[187,311.7], legB:[390,311.7], nA:8},
 {grid:{left:718, right:25, top:18, bottom:488}, ymin:90, ymax:102, ticks:y2Ticks,
  bands:[['raw',p2RawLo,p2RawHi],['hi',p2HiLo,p2HiHi],['lo',p2LoLo,p2LoHi],['eh',p2EhLo,p2EhHi,p2EhLoMid],['el',p2ElLo,p2ElHi]],
  lines:[['raw',p2RawMean,p2RawBest,null,p2RawBestMid],['hi',p2HiMean,p2HiBest,null,p2HiBestMid],['lo',p2LoMean,p2LoBest,null,p2LoBestMid],['eh',p2EhMean,p2EhBest,p2EhMeanMid,p2EhBestMid],['el',p2ElMean,p2ElBest,p2ElMeanMid,p2ElBestMid]],
  title:[1023.5,8], xname:[1023.5,445], yname:[686,220],
  box:[850,308,478,109], legA:[852,310.7], legB:[1059.5,310.7], nA:8},
 {grid:{left:47, right:697, top:478, bottom:28}, ymin:-17, ymax:-4, ticks:y3Ticks,
  bands:[['raw',p3RawLo,p3RawHi],['hi',p3HiLo,p3HiHi,p3HiLoMid],['lo',p3LoLo,p3LoHi]],
  lines:[['raw',p3RawMean,p3RawBest,p3RawMeanMid,p3RawBestMid],['hi',p3HiMean,p3HiBest,p3HiMeanMid,p3HiBestMid],['lo',p3LoMean,p3LoBest,p3LoMeanMid,p3LoBestMid]],
  title:[352,468.5], xname:[352,903], yname:[14,679],
  box:[180,807,474,69], legA:[183,809], legB:[388,809], nA:5},
 {grid:{left:718, right:25, top:478, bottom:28}, ymin:-22, ymax:-4, ticks:y4Ticks,
  bands:[['raw',p4RawLo,p4RawHi],['hi',p4HiLo,p4HiHi,p4HiLoMid],['lo',p4LoLo,p4LoHi],['eh',p4EhLo,p4EhHi],['el',p4ElLo,p4ElHi]],
  lines:[['raw',p4RawMean,p4RawBest,p4RawMeanMid,p4RawBestMid],['hi',p4HiMean,p4HiBest,p4HiMeanMid,p4HiBestMid],['lo',p4LoMean,p4LoBest,p4LoMeanMid,p4LoBestMid],['eh',p4EhMean,p4EhBest,p4EhMeanMid,p4EhBestMid],['el',p4ElMean,p4ElBest,p4ElMeanMid,p4ElBestMid]],
  title:[1023.5,468.5], xname:[1023.5,903], yname:[686,679],
  box:[852,767,476,109], legA:[855.5,769], legB:[1060,769], nA:8}
];

// merge the base samples with the in-between samples (if any), ordered by step
const merged = (base, mid) => {
  const a = X.map((x, i) => [x, base[i]]);
  if (mid) XM.forEach((x, j) => a.push([x, mid[j]]));
  return a.sort((p, q) => p[0] - q[0]);
};
const fmtY = v => (v < 0 ? '\u2212' + Math.abs(v) : String(v));
const fmtX = v => String(v);
const axisCol = '#222';
const gridCol = '#c6c6c6';

const grids = [], xAxes = [], yAxes = [], series = [], legends = [], graphics = [];
panels.forEach((p, gi) => {
  grids.push(Object.assign({show:true, borderColor:axisCol, borderWidth:1, backgroundColor:'transparent'}, p.grid));
  xAxes.push({type:'value', gridIndex:gi, min:0, max:2000, interval:250,
    axisLine:{show:true, onZero:false, lineStyle:{color:axisCol}},
    axisTick:{show:true, length:3.5, lineStyle:{color:axisCol}},
    axisLabel:{fontSize:9, fontFamily:FONT, color:'#222', margin:5, showMinLabel:true, showMaxLabel:true, formatter:fmtX},
    splitLine:{show:true, lineStyle:{color:gridCol, width:1}}});
  yAxes.push({type:'value', gridIndex:gi, min:p.ymin, max:p.ymax,
    axisLine:{show:true, onZero:false, lineStyle:{color:axisCol}},
    axisTick:{show:true, length:3.5, customValues:p.ticks, lineStyle:{color:axisCol}},
    axisLabel:{customValues:p.ticks, fontSize:9, fontFamily:FONT, color:'#222', margin:5, formatter:fmtY},
    splitLine:{show:true, lineStyle:{color:gridCol, width:1}}});
  // bands (fill_between), drawn as polygons through the axes' scales
  p.bands.forEach(([k, lo, hi, loMid]) => {
    const ymin = p.ymin, ymax = p.ymax;
    const topPts = merged(hi, null), botPts = merged(lo, loMid);
    series.push({type:'custom', name:nm(k,'r'), coordinateSystem:'cartesian2d', xAxisIndex:gi, yAxisIndex:gi,
      data:[[X[0], lo[0]]], z:1, silent:true, clip:true, itemStyle:{color:BAND[k]},
      renderItem:(params, api) => {
        const c = v => Math.min(ymax, Math.max(ymin, v));
        const top = topPts.map(d => api.coord([d[0], c(d[1])]));
        const bot = botPts.map(d => api.coord([d[0], c(d[1])])).reverse();
        return {type:'polygon', shape:{points:top.concat(bot)}, style:{fill:BAND[k]}};
      }});
  });
  // mean + best lines
  p.lines.forEach(([k, mean, best, meanMid, bestMid]) => {
    series.push({type:'line', name:nm(k,'m'), xAxisIndex:gi, yAxisIndex:gi, data:merged(mean, meanMid), symbol:'none', color:COL[k],
      lineStyle:{color:COL[k], width:1.3}, z:3, silent:true});
    series.push({type:'line', name:nm(k,'b'), xAxisIndex:gi, yAxisIndex:gi, data:merged(best, bestMid), symbol:'none', color:COL[k],
      lineStyle:{color:COL[k], width:1.3, type:[4,2]}, z:3, silent:true});
  });
  const items = [];
  p.lines.forEach(([k]) => { items.push(nm(k,'m')); items.push(nm(k,'b')); });
  p.bands.forEach(([k]) => items.push({name:nm(k,'r'), icon:'rect', itemStyle:{color:BAND[k], opacity:1, borderWidth:0}}));
  const mk = (pos, data) => ({orient:'vertical', left:pos[0], top:pos[1], padding:0, itemGap:3.4,
    itemWidth:20, itemHeight:7, selectedMode:false, z:20,
    itemStyle:{opacity:0}, textStyle:{fontSize:9, fontFamily:FONT, color:'#222', lineHeight:10}, data});
  legends.push(mk(p.legA, items.slice(0, p.nA)));
  legends.push(mk(p.legB, items.slice(p.nA)));
  graphics.push({type:'rect', z:10, shape:{x:p.box[0], y:p.box[1], width:p.box[2], height:p.box[3], r:3},
    style:{fill:'rgba(255,255,255,0.8)', stroke:'#d0d0d0', lineWidth:1}});
  graphics.push({type:'text', x:p.title[0], y:p.title[1], style:{text:titles[gi], fontSize:11, fontFamily:FONT, fill:'#000', align:'center', verticalAlign:'middle'}});
  graphics.push({type:'text', x:p.xname[0], y:p.xname[1], style:{text:'step', fontSize:9, fontFamily:FONT, fill:'#000', align:'center', verticalAlign:'middle'}});
  graphics.push({type:'text', x:p.yname[0], y:p.yname[1], rotation:Math.PI/2, style:{text:'AverageReturn', fontSize:9, fontFamily:FONT, fill:'#000', align:'center', verticalAlign:'middle'}});
});

const chart = echarts.init(document.getElementById('c'), null, {renderer:'canvas'});
chart.setOption({animation:false, backgroundColor:'#fff', grid:grids, xAxis:xAxes, yAxis:yAxes,
  series, legend:legends, graphic:{elements:graphics}, tooltip:{show:false}});
</script></body></html>
